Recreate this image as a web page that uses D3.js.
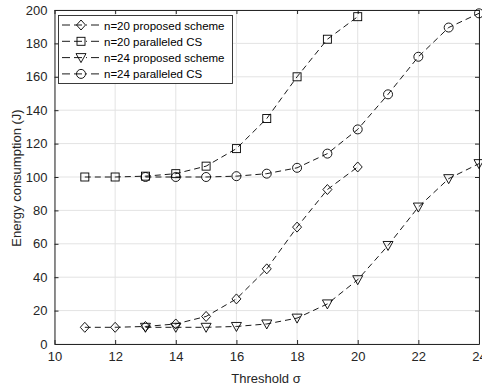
<!DOCTYPE html>
<html>
<head>
<meta charset="utf-8">
<script src="https://cdn.jsdelivr.net/npm/d3@7"></script>
<style>
  body { margin: 0; background: #fff; }
  text { font-family: "Liberation Sans", Arial, sans-serif; }
</style>
</head>
<body>
<div id="chart"></div>
<script>
// data
const thresholdN20 = [11, 12, 13, 14, 15, 16, 17, 18, 19, 20]
const thresholdN24 = [13, 14, 15, 16, 17, 18, 19, 20, 21, 22, 23, 24]
const n20Proposed = [10, 10, 10.5, 12, 16.5, 27, 45, 70, 92.5, 106]
const n20Paralleled = [100, 100, 100.5, 102, 106.5, 117, 135, 160, 182.5, 196]
const n24Proposed = [10, 10, 10, 10.5, 12, 15.5, 24, 38.5, 59, 82, 99, 108]
const n24Paralleled = [100, 100, 100, 100.5, 102, 105.5, 114, 128.5, 149.5, 172, 189.5, 198]
const xTicks = [10, 12, 14, 16, 18, 20, 22, 24]
const yTicks = [0, 20, 40, 60, 80, 100, 120, 140, 160, 180, 200]

const series = [
  { name: "n=20 proposed scheme", x: thresholdN20, y: n20Proposed, marker: "diamond" },
  { name: "n=20 paralleled CS", x: thresholdN20, y: n20Paralleled, marker: "square" },
  { name: "n=24 proposed scheme", x: thresholdN24, y: n24Proposed, marker: "triangle" },
  { name: "n=24 paralleled CS", x: thresholdN24, y: n24Paralleled, marker: "circle" },
]

const width = 482
const height = 388
const margin = { top: 10, right: 3, bottom: 44, left: 54.5 }
const fontSize = 13

const svg = d3.select("#chart").append("svg")
  .attr("width", width)
  .attr("height", height)

const x = d3.scaleLinear().domain([10, 24]).range([margin.left, width - margin.right])
const y = d3.scaleLinear().domain([0, 200]).range([height - margin.bottom, margin.top])

// grid
svg.append("g").selectAll("line.gx")
  .data(xTicks).enter().append("line")
  .attr("x1", d => x(d)).attr("x2", d => x(d))
  .attr("y1", y(0)).attr("y2", y(200))
  .attr("stroke", "#e3e3e3").attr("stroke-width", 1)
svg.append("g").selectAll("line.gy")
  .data(yTicks).enter().append("line")
  .attr("x1", x(10)).attr("x2", x(24))
  .attr("y1", d => y(d)).attr("y2", d => y(d))
  .attr("stroke", "#e3e3e3").attr("stroke-width", 1)

// axes with inward ticks
const xAxis = svg.append("g")
  .attr("transform", `translate(0,${y(0)})`)
  .call(d3.axisBottom(x).tickValues(xTicks).tickSizeInner(-4).tickSizeOuter(0).tickPadding(7))
const xAxisTop = svg.append("g")
  .attr("transform", `translate(0,${y(200)})`)
  .call(d3.axisTop(x).tickValues(xTicks).tickSizeInner(-4).tickSizeOuter(0).tickFormat(""))
const yAxis = svg.append("g")
  .attr("transform", `translate(${x(10)},0)`)
  .call(d3.axisLeft(y).tickValues(yTicks).tickSizeInner(-4).tickSizeOuter(0).tickPadding(7))
const yAxisRight = svg.append("g")
  .attr("transform", `translate(${x(24)},0)`)
  .call(d3.axisRight(y).tickValues(yTicks).tickSizeInner(-4).tickSizeOuter(0).tickFormat(""))

;[xAxis, xAxisTop, yAxis, yAxisRight].forEach(g => {
  g.selectAll("path").attr("stroke", "#262626")
  g.selectAll("line").attr("stroke", "#262626")
  g.selectAll("text").attr("font-size", fontSize).attr("fill", "#262626")
})
xAxis.selectAll("text").attr("dy", "0.8em")

svg.append("text")
  .attr("x", 266).attr("y", 383)
  .attr("text-anchor", "middle")
  .attr("font-size", fontSize).attr("fill", "#262626")
  .text("Threshold σ")

svg.append("text")
  .attr("transform", `translate(21,178) rotate(-90)`)
  .attr("text-anchor", "middle")
  .attr("font-size", fontSize).attr("fill", "#262626")
  .text("Energy consumption (J)")

// marker drawing
function drawMarker(g, type, cx, cy) {
  if (type === "diamond") {
    g.append("path").attr("d", `M${cx},${cy - 5}L${cx + 4.5},${cy}L${cx},${cy + 5}L${cx - 4.5},${cy}Z`)
  } else if (type === "square") {
    g.append("rect").attr("x", cx - 4).attr("y", cy - 4).attr("width", 8).attr("height", 8)
  } else if (type === "triangle") {
    g.append("path").attr("d", `M${cx - 5},${cy - 4}L${cx + 5},${cy - 4}L${cx},${cy + 5}Z`)
  } else {
    g.append("circle").attr("cx", cx).attr("cy", cy).attr("r", 4.5)
  }
}

const line = d3.line().x(d => x(d[0])).y(d => y(d[1]))

series.forEach(s => {
  const pts = s.x.map((v, i) => [v, s.y[i]])
  svg.append("path")
    .datum(pts)
    .attr("d", line)
    .attr("fill", "none")
    .attr("stroke", "#000")
    .attr("stroke-width", 0.9)
    .attr("stroke-dasharray", "6,4")
  const mg = svg.append("g").attr("fill", "none").attr("stroke", "#000").attr("stroke-width", 0.9)
  pts.forEach(p => drawMarker(mg, s.marker, x(p[0]), y(p[1])))
})

// legend
const legend = svg.append("g")
legend.append("rect")
  .attr("x", 58.5).attr("y", 15.5).attr("width", 174).attr("height", 68)
  .attr("fill", "#fff").attr("stroke", "#262626").attr("stroke-width", 0.9)

series.forEach((s, i) => {
  const ly = 25 + i * 16.3
  legend.append("line")
    .attr("x1", 62).attr("x2", 101).attr("y1", ly).attr("y2", ly)
    .attr("stroke", "#000").attr("stroke-width", 0.9)
    .attr("stroke-dasharray", "8,4,8,4,1,4")
  const mg = legend.append("g").attr("fill", "none").attr("stroke", "#000").attr("stroke-width", 0.9)
  drawMarker(mg, s.marker, 81, ly)
  legend.append("text")
    .attr("x", 104).attr("y", ly + 4.5)
    .attr("font-size", 11.5).attr("fill", "#000")
    .text(s.name)
})
</script>
</body>
</html>
